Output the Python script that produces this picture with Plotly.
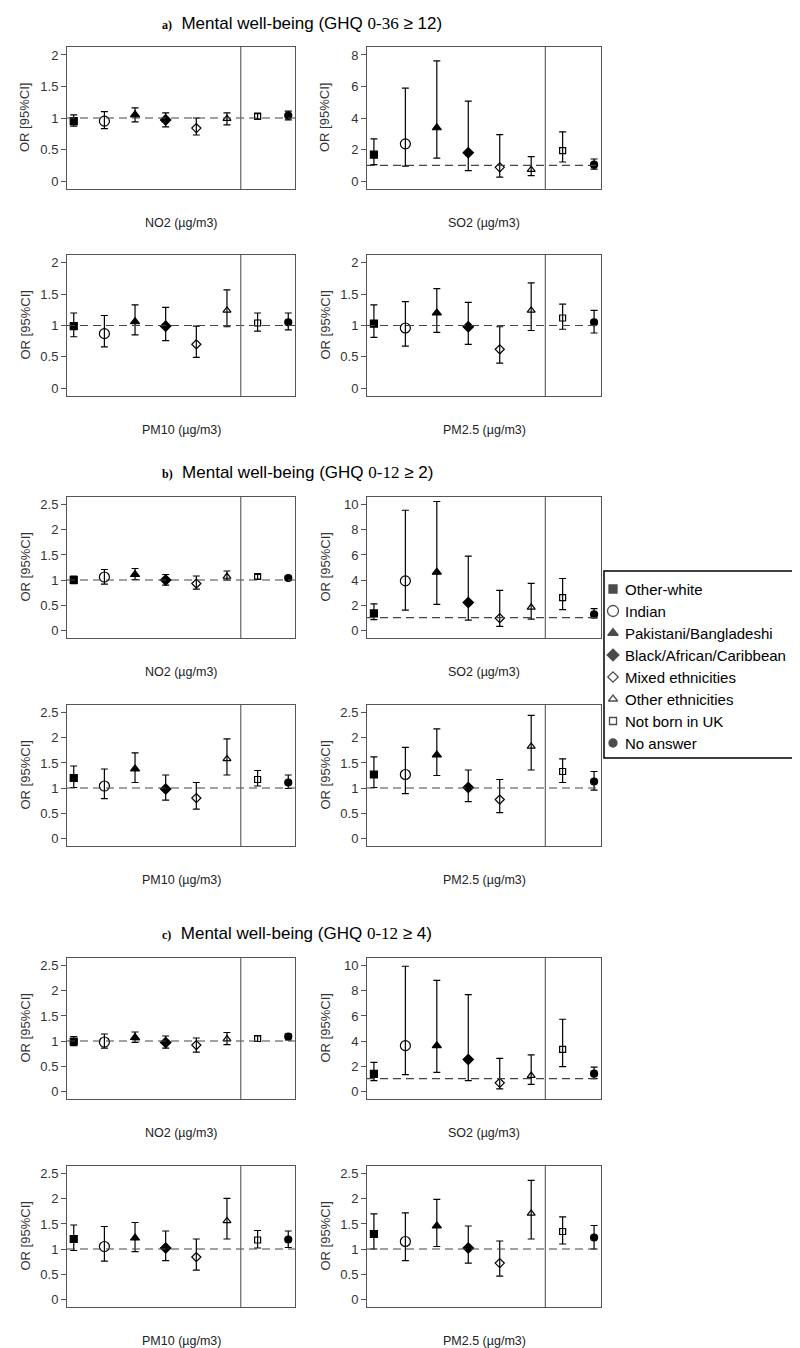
import plotly.graph_objects as go

##Grunddaten
W, H = 800, 1348

gruppen = ['Other-white', 'Indian', 'Pakistani/Bangladeshi', 'Black/African/Caribbean',
           'Mixed ethnicities', 'Other ethnicities', 'Not born in UK', 'No answer']
x_pos = [1, 2, 3, 4, 5, 6, 7, 8]

symbole = ['square', 'circle-open', 'triangle-up', 'diamond',
           'diamond-open', 'triangle-up-open', 'square-open', 'circle']
groessen = [7, 10, 8, 8, 7, 7, 6, 7]

##a) GHQ 0-36 >= 12
a_no2_or = [0.95, 0.95, 1.05, 0.97, 0.84, 0.99, 1.03, 1.04]
a_no2_lo = [0.87, 0.83, 0.94, 0.86, 0.73, 0.89, 0.98, 0.97]
a_no2_hi = [1.05, 1.10, 1.16, 1.08, 1.00, 1.08, 1.07, 1.11]

a_so2_or = [1.68, 2.36, 3.38, 1.80, 0.87, 0.72, 1.93, 1.04]
a_so2_lo = [1.04, 0.95, 1.46, 0.66, 0.25, 0.34, 1.21, 0.76]
a_so2_hi = [2.67, 5.90, 7.62, 5.07, 2.95, 1.55, 3.12, 1.40]

a_pm10_or = [0.99, 0.87, 1.06, 0.99, 0.70, 1.24, 1.04, 1.05]
a_pm10_lo = [0.82, 0.66, 0.85, 0.76, 0.49, 0.98, 0.91, 0.93]
a_pm10_hi = [1.20, 1.16, 1.33, 1.29, 0.99, 1.57, 1.20, 1.20]

a_pm25_or = [1.03, 0.96, 1.20, 0.98, 0.62, 1.24, 1.12, 1.05]
a_pm25_lo = [0.81, 0.67, 0.89, 0.70, 0.40, 0.92, 0.94, 0.88]
a_pm25_hi = [1.33, 1.38, 1.59, 1.37, 0.98, 1.68, 1.34, 1.24]

##b) GHQ 0-12 >= 2
b_no2_or = [1.00, 1.06, 1.11, 1.00, 0.93, 1.07, 1.07, 1.04]
b_no2_lo = [0.93, 0.92, 1.01, 0.90, 0.82, 1.00, 1.02, 1.00]
b_no2_hi = [1.08, 1.21, 1.23, 1.11, 1.08, 1.18, 1.11, 1.08]

b_so2_or = [1.33, 3.93, 4.63, 2.20, 0.95, 1.82, 2.60, 1.25]
b_so2_lo = [0.84, 1.60, 2.06, 0.79, 0.30, 0.87, 1.63, 0.98]
b_so2_hi = [2.09, 9.57, 10.27, 5.91, 3.17, 3.74, 4.12, 1.71]

b_pm10_or = [1.20, 1.04, 1.38, 0.98, 0.80, 1.58, 1.17, 1.11]
b_pm10_lo = [1.01, 0.79, 1.11, 0.76, 0.58, 1.26, 1.04, 0.99]
b_pm10_hi = [1.44, 1.38, 1.70, 1.26, 1.11, 1.98, 1.35, 1.26]

b_pm25_or = [1.27, 1.27, 1.66, 1.01, 0.77, 1.83, 1.33, 1.13]
b_pm25_lo = [1.01, 0.89, 1.25, 0.73, 0.51, 1.36, 1.11, 0.96]
b_pm25_hi = [1.62, 1.81, 2.18, 1.36, 1.17, 2.45, 1.58, 1.33]

##c) GHQ 0-12 >= 4
c_no2_or = [0.99, 0.98, 1.07, 0.97, 0.92, 1.04, 1.05, 1.09]
c_no2_lo = [0.91, 0.86, 0.97, 0.86, 0.78, 0.93, 0.99, 1.02]
c_no2_hi = [1.09, 1.14, 1.18, 1.10, 1.06, 1.17, 1.10, 1.14]

c_so2_or = [1.37, 3.63, 3.63, 2.53, 0.66, 1.24, 3.34, 1.39]
c_so2_lo = [0.84, 1.32, 1.50, 0.84, 0.18, 0.53, 1.95, 1.00]
c_so2_hi = [2.29, 9.97, 8.84, 7.71, 2.61, 2.89, 5.74, 1.92]

c_pm10_or = [1.20, 1.05, 1.22, 1.02, 0.84, 1.56, 1.18, 1.19]
c_pm10_lo = [0.97, 0.76, 0.95, 0.77, 0.58, 1.20, 1.02, 1.03]
c_pm10_hi = [1.48, 1.45, 1.53, 1.36, 1.20, 2.01, 1.37, 1.36]

c_pm25_or = [1.30, 1.15, 1.46, 1.02, 0.72, 1.71, 1.35, 1.23]
c_pm25_lo = [1.00, 0.77, 1.05, 0.72, 0.46, 1.20, 1.10, 1.00]
c_pm25_hi = [1.70, 1.72, 1.99, 1.46, 1.16, 2.37, 1.64, 1.47]

titel = {
    'a': ('a)', '0-36', ' \u2265 12)'),
    'b': ('b)', '0-12', ' \u2265 2)'),
    'c': ('c)', '0-12', ' \u2265 4)'),
}

##Panels: (Werte, ymax, Tickabstand, Beschriftung, Zeile, Spalte)
panels = [
    (a_no2_or, a_no2_lo, a_no2_hi, 2, 0.5, 'NO2 (\u00b5g/m3)', 0, 0),
    (a_so2_or, a_so2_lo, a_so2_hi, 8, 2, 'SO2 (\u00b5g/m3)', 0, 1),
    (a_pm10_or, a_pm10_lo, a_pm10_hi, 2, 0.5, 'PM10 (\u00b5g/m3)', 1, 0),
    (a_pm25_or, a_pm25_lo, a_pm25_hi, 2, 0.5, 'PM2.5 (\u00b5g/m3)', 1, 1),
    (b_no2_or, b_no2_lo, b_no2_hi, 2.5, 0.5, 'NO2 (\u00b5g/m3)', 2, 0),
    (b_so2_or, b_so2_lo, b_so2_hi, 10, 2, 'SO2 (\u00b5g/m3)', 2, 1),
    (b_pm10_or, b_pm10_lo, b_pm10_hi, 2.5, 0.5, 'PM10 (\u00b5g/m3)', 3, 0),
    (b_pm25_or, b_pm25_lo, b_pm25_hi, 2.5, 0.5, 'PM2.5 (\u00b5g/m3)', 3, 1),
    (c_no2_or, c_no2_lo, c_no2_hi, 2.5, 0.5, 'NO2 (\u00b5g/m3)', 4, 0),
    (c_so2_or, c_so2_lo, c_so2_hi, 10, 2, 'SO2 (\u00b5g/m3)', 4, 1),
    (c_pm10_or, c_pm10_lo, c_pm10_hi, 2.5, 0.5, 'PM10 (\u00b5g/m3)', 5, 0),
    (c_pm25_or, c_pm25_lo, c_pm25_hi, 2.5, 0.5, 'PM2.5 (\u00b5g/m3)', 5, 1),
]

##Pixelpositionen der Kaesten
zeilen_px = [(39, 181), (247, 388), (489, 630), (697, 838), (950, 1091), (1158, 1299)]
spalten_px = [(59, 287), (359, 593)]
titel_px = [('a', 15), ('b', 465), ('c', 925)]
legende_px = (596, 563, 799, 750)

fig = go.Figure()
layout = {}
shapes = []
annots = []
font = 'Liberation Sans, Arial'

for i, (w, lo, hi, ymax, dt, lab, r, c) in enumerate(panels):
    n = i + 1
    xa = 'x' if n == 1 else 'x%d' % n
    ya = 'y' if n == 1 else 'y%d' % n
    top, bot = zeilen_px[r]
    left, right = spalten_px[c]
    pad = 0.063 * ymax

    layout['xaxis' if n == 1 else 'xaxis%d' % n] = dict(
        domain=[left / W, right / W], anchor=ya, range=[0.78, 8.22],
        showticklabels=False, ticks='', showgrid=False, zeroline=False,
        showline=True, mirror=True, linecolor='#555', linewidth=1)
    tv = [k * dt for k in range(int(round(ymax / dt)) + 1)]
    layout['yaxis' if n == 1 else 'yaxis%d' % n] = dict(
        domain=[1 - bot / H, 1 - top / H], anchor=xa, range=[-pad, ymax + pad],
        tickmode='array', tickvals=tv, ticktext=['%g' % t for t in tv],
        ticks='outside', ticklen=5, tickcolor='#555', tickwidth=1,
        tickfont=dict(size=13, color='#333', family=font),
        showgrid=False, zeroline=False,
        showline=True, mirror=True, linecolor='#555', linewidth=1)

    #Referenzlinie bei OR = 1
    shapes.append(dict(type='line', xref=xa + ' domain', yref=ya, x0=0, x1=1, y0=1, y1=1,
                       line=dict(color='#444', width=1.2, dash='8px,5px')))
    #Trennlinie vor "Not born in UK"
    shapes.append(dict(type='line', xref=xa, yref=ya + ' domain', x0=6.45, x1=6.45, y0=0, y1=1,
                       line=dict(color='#666', width=1.2)))

    for g in range(8):
        fig.add_trace(go.Scatter(
            x=[x_pos[g]], y=[w[g]], xaxis=xa, yaxis=ya, mode='markers',
            name=gruppen[g], showlegend=False,
            marker=dict(symbol=symbole[g], size=groessen[g], color='black',
                        line=dict(color='black', width=1.2)),
            error_y=dict(type='data', symmetric=False,
                         array=[hi[g] - w[g]], arrayminus=[w[g] - lo[g]],
                         color='black', thickness=1.2, width=3.5)))

    annots.append(dict(x=(left + right) / 2 / W, y=1 - (bot + 34) / H, xref='paper', yref='paper',
                       text=lab, showarrow=False, xanchor='center', yanchor='middle',
                       font=dict(size=12.5, color='#222', family=font)))
    annots.append(dict(x=(left - 42) / W, y=1 - (top + bot) / 2 / H, xref='paper', yref='paper',
                       text='OR [95%CI]', textangle=-90, showarrow=False,
                       xanchor='center', yanchor='middle',
                       font=dict(size=13, color='#333', family=font)))

for k, ty in titel_px:
    buchst, ghq, rest = titel[k]
    txt = ("<span style='font-family:Liberation Serif;font-size:12px'><b>%s</b></span>  "
           "Mental well-being (GHQ <span style='font-family:Liberation Serif'>%s</span>%s" % (buchst, ghq, rest))
    annots.append(dict(x=152 / W, y=1 - ty / H, xref='paper', yref='paper', text=txt,
                       showarrow=False, xanchor='left', yanchor='middle',
                       font=dict(size=17, color='black', family=font)))

##Legende (eigene Achse in Pixeln)
lx0, ly0, lx1, ly1 = legende_px
legende_y = [581, 603, 625, 647, 669, 691, 713, 735]
fig.add_trace(go.Scatter(
    x=[605] * 8, y=legende_y, xaxis='x13', yaxis='y13', mode='markers', showlegend=False,
    marker=dict(symbol=symbole, size=[8, 11, 9, 9, 8, 8, 7, 8], color='black',
                line=dict(color='black', width=1.3))))
layout['xaxis13'] = dict(domain=[lx0 / W, lx1 / W], range=[lx0, lx1], visible=False, anchor='y13')
layout['yaxis13'] = dict(domain=[1 - ly1 / H, 1 - ly0 / H], range=[ly1, ly0], visible=False, anchor='x13')
shapes.append(dict(type='rect', xref='paper', yref='paper', x0=lx0 / W, x1=lx1 / W,
                   y0=1 - ly1 / H, y1=1 - ly0 / H, line=dict(color='black', width=1.5)))
for g in range(8):
    annots.append(dict(x=615, y=legende_y[g], xref='x13', yref='y13', text=gruppen[g],
                       showarrow=False, xanchor='left', yanchor='middle',
                       font=dict(size=15, color='black', family=font)))

layout.update(
    width=W, height=H, margin=dict(l=0, r=0, t=0, b=0),
    paper_bgcolor='white', plot_bgcolor='white',
    shapes=shapes, annotations=annots, showlegend=False,
)
fig.update_layout(**layout)

fig.write_html("out.html")
